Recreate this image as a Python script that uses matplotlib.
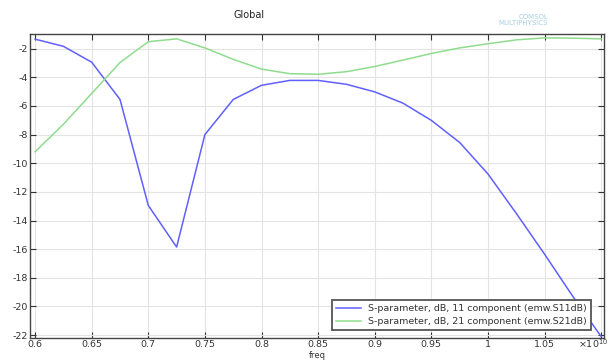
import matplotlib
matplotlib.use("Agg")
import matplotlib.pyplot as plt
import numpy as np

freq = [0.6, 0.625, 0.65, 0.675, 0.7, 0.725, 0.75, 0.775, 0.8, 0.825, 0.85,
        0.875, 0.9, 0.925, 0.95, 0.975, 1.0, 1.025, 1.05, 1.075, 1.1]
s11 = [-1.34, -1.84, -2.95, -5.55, -12.95, -15.85, -8.0, -5.55, -4.56, -4.22, -4.22,
       -4.49, -5.02, -5.81, -7.01, -8.55, -10.75, -13.5, -16.35, -19.3, -22.1]
s21 = [-9.2, -7.28, -5.13, -2.97, -1.52, -1.32, -1.95, -2.75, -3.43, -3.75, -3.79,
       -3.61, -3.25, -2.8, -2.34, -1.95, -1.66, -1.39, -1.25, -1.27, -1.32]
xticks = [0.6, 0.65, 0.7, 0.75, 0.8, 0.85, 0.9, 0.95, 1.0, 1.05, 1.1]
xticklabels = ["0.6", "0.65", "0.7", "0.75", "0.8", "0.85", "0.9", "0.95", "1", "1.05", ""]
exponent_label = "×10$^{10}$"
yticks = [-2, -4, -6, -8, -10, -12, -14, -16, -18, -20, -22]
labels = ["S-parameter, dB, 11 component (emw.S11dB)",
          "S-parameter, dB, 21 component (emw.S21dB)"]

fig = plt.figure(figsize=(6.09, 3.6), dpi=100)
ax = fig.add_axes([30/609, 1-338/360, (604-30)/609, (338-34)/360])
ax.plot(freq, s11, color="#6060ff", lw=1.1, label=labels[0])
ax.plot(freq, s21, color="#8fdc8f", lw=1.1, label=labels[1])
ax.set_xlim(0.5955, 1.1025)
ax.set_ylim(-22.2, -0.98)
ax.set_xticks(xticks)
ax.set_xticklabels(xticklabels)
ax.set_yticks(yticks)
ax.set_yticklabels([str(v) for v in yticks])
ax.grid(True, color="#e4e4e4", lw=0.8)
ax.tick_params(direction="in", length=4, width=0.8, top=True, right=True,
               labelsize=6.8, colors="#333333", pad=1.5)
for sp in ax.spines.values():
    sp.set_color("#444444")
    sp.set_linewidth(1.0)
fig.text(317/609, 0.0, "freq", fontsize=6, color="#333333", ha="center", va="bottom")
fig.text(608/609, 1-344/360, exponent_label, fontsize=6.8, color="#333333", ha="right", va="center")
leg = ax.legend(loc="lower right", fontsize=6.8, frameon=True, fancybox=False,
                edgecolor="#555555", framealpha=1, handlelength=2.6,
                borderaxespad=0.5, labelspacing=0.45, bbox_to_anchor=(0.985, 0.01))
leg.get_frame().set_linewidth(1.3)
for t in leg.get_texts():
    t.set_color("#333333")
fig.text(249/609, 1-15/360, "Global", fontsize=7, color="#222222", ha="center", va="center")
fig.text(548/609, 1-20/360, "COMSOL\nMULTIPHYSICS", fontsize=5, color="#a8cfe0",
         ha="right", va="center", linespacing=0.9)
fig.savefig("out.png", dpi=100)
